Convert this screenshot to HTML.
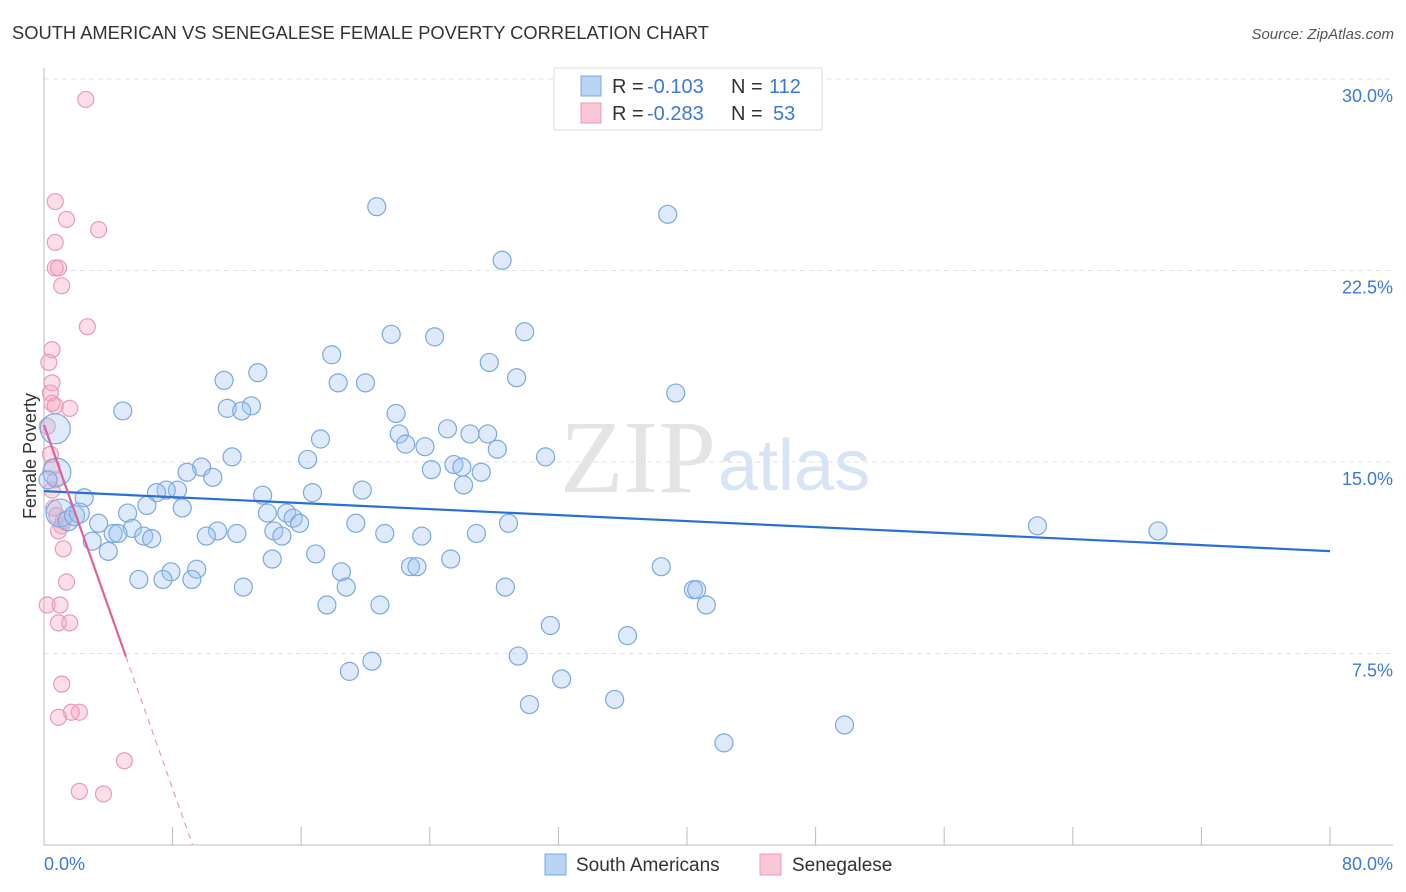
<!DOCTYPE html>
<html><head><meta charset="utf-8"><style>
body{margin:0;background:#fff;font-family:"Liberation Sans",sans-serif}
svg{display:block}
</style></head><body>
<svg id="chart" width="1406" height="892" xmlns="http://www.w3.org/2000/svg">
<text x="12" y="39" font-size="18" fill="#333" textLength="697" lengthAdjust="spacingAndGlyphs">SOUTH AMERICAN VS SENEGALESE FEMALE POVERTY CORRELATION CHART</text>
<text x="1394" y="39" font-size="15" fill="#555" text-anchor="end" font-style="italic">Source: ZipAtlas.com</text>
<g id="grid"></g>
<text x="716" y="492" font-size="104" fill="#e4e4e4" text-anchor="end" font-family="Liberation Serif,serif">ZIP</text>
<text x="718" y="490" font-size="72" fill="#d6e4f5">atlas</text>
<g id="axes"></g>
<g id="pts"></g>
<g id="lines"></g>
<text x="36" y="456" font-size="18" fill="#333" text-anchor="middle" transform="rotate(-90 36 456)">Female Poverty</text>
<g>
<rect x="554" y="68" width="268" height="62" fill="#fff" stroke="#ddd"/>
<rect x="581" y="76" width="20" height="20" fill="#b8d3f3" stroke="#7aa8e0"/>
<rect x="581" y="103" width="20" height="20" fill="#f8c6d5" stroke="#eb9ab4"/>
<text x="612" y="93" font-size="20" fill="#333">R =</text>
<text x="647" y="93" font-size="20" fill="#3c78d8">-0.103</text>
<text x="731" y="93" font-size="20" fill="#333">N =</text>
<text x="769" y="93" font-size="20" fill="#3c78d8">112</text>
<text x="612" y="120" font-size="20" fill="#333">R =</text>
<text x="647" y="120" font-size="20" fill="#3c78d8">-0.283</text>
<text x="731" y="120" font-size="20" fill="#333">N =</text>
<text x="773" y="120" font-size="20" fill="#3c78d8">53</text>
</g>
<g>
<rect x="545" y="854" width="21" height="21" fill="#b8d3f3" stroke="#7aa8e0"/>
<text x="576" y="871" font-size="19" fill="#333">South Americans</text>
<rect x="760" y="854" width="21" height="21" fill="#f8c6d5" stroke="#eb9ab4"/>
<text x="792" y="871" font-size="19" fill="#333">Senegalese</text>
</g>
</svg>
<script>
const yTicks=[7.5,15.0,22.5,30.0];
const xTickLabels=["0.0%","80.0%"];
const blueX=[20.7,38.8,28.5,21.6,24.3,29.9,17.9,27.7,13.3,29.4,11.2,18.3,20.0,39.3,4.9,11.4,12.9,12.3,21.9,25.1,22.1,26.5,27.6,17.2,22.5,23.7,28.2,11.7,16.4,31.2,25.5,9.8,26.0,24.1,8.9,27.2,10.5,26.1,8.3,7.6,7.0,13.6,19.8,16.7,2.5,6.4,8.6,5.2,13.9,15.1,15.5,15.9,19.4,28.9,3.4,5.5,10.8,14.3,21.2,26.9,12.0,23.5,4.3,4.6,6.2,14.8,10.1,6.7,3.0,4.0,16.9,14.2,25.3,22.8,23.2,38.4,9.5,18.5,7.9,5.9,7.4,9.2,12.4,18.8,28.7,40.4,40.6,41.2,17.6,20.9,31.5,36.3,29.5,20.4,19.0,32.2,35.5,30.2,49.8,42.3,61.8,69.3,0.7,0.8,1.0,1.5,1.9,2.2,0.25];
const blueY=[25.0,24.7,22.9,20.0,19.9,20.1,19.2,18.9,18.5,18.3,18.2,18.1,18.1,17.7,17.0,17.1,17.2,17.0,16.9,16.3,16.1,16.1,16.1,15.9,15.7,15.6,15.5,15.2,15.1,15.2,14.9,14.8,14.8,14.7,14.6,14.6,14.4,14.1,13.9,13.9,13.8,13.7,13.9,13.8,13.6,13.3,13.2,13.0,13.0,13.0,12.8,12.6,12.6,12.6,12.6,12.4,12.3,12.3,12.2,12.2,12.2,12.1,12.2,12.2,12.1,12.1,12.1,12.0,11.9,11.5,11.4,11.2,11.2,10.9,10.9,10.9,10.8,10.7,10.7,10.4,10.4,10.4,10.1,10.1,10.1,10.0,10.0,9.4,9.4,9.4,8.6,8.2,7.4,7.2,6.8,6.5,5.7,5.5,4.7,4.0,12.5,12.3,16.3,14.6,13.0,12.7,12.9,13.0,14.3];
const blueR=[9,9,9,9,9,9,9,9,9,9,9,9,9,9,9,9,9,9,9,9,9,9,9,9,9,9,9,9,9,9,9,9,9,9,9,9,9,9,9,9,9,9,9,9,9,9,9,9,9,9,9,9,9,9,9,9,9,9,9,9,9,9,9,9,9,9,9,9,9,9,9,9,9,9,9,9,9,9,9,9,9,9,9,9,9,9,9,9,9,9,9,9,9,9,9,9,9,9,9,9,9,9,15,14,14,10,10,10,9];
const pinkX=[2.6,0.7,1.4,3.4,0.7,0.7,0.9,1.1,2.7,0.5,0.3,0.5,0.4,0.5,0.7,1.6,0.2,0.4,0.5,0.7,0.5,0.6,0.8,1.2,1.1,0.9,1.2,1.4,0.2,1.0,0.9,1.6,1.1,2.2,1.7,0.9,5.0,2.2,3.7];
const pinkY=[29.2,25.2,24.5,24.1,23.6,22.6,22.6,21.9,20.3,19.4,18.9,18.1,17.7,17.3,17.2,17.1,16.4,15.3,14.8,14.3,13.9,13.2,12.9,12.7,12.5,12.3,11.6,10.3,9.4,9.4,8.7,8.7,6.3,5.2,5.2,5.0,3.3,2.1,2.0];
const blueLine=[13.86,11.51];
const pinkLine=[16.45,-1.78];
const X0=44,X1=1330,Y0=845,YS=191.5/7.5;
const sx=v=>X0+(X1-X0)*v/80, sy=v=>Y0-v*YS;
const NS="http://www.w3.org/2000/svg";
function mk(p,t,a){const e=document.createElementNS(NS,t);for(const k in a)e.setAttribute(k,a[k]);p.appendChild(e);return e;}
const grid=document.getElementById('grid'),axes=document.getElementById('axes'),pts=document.getElementById('pts'),lines=document.getElementById('lines');
yTicks.forEach(t=>{
 const l=mk(grid,'line',{x1:X0,x2:1393,y1:sy(t),y2:sy(t),stroke:'#e2e2e2','stroke-dasharray':'5,4'});
 
 
 const tx=mk(axes,'text',{x:1393,y:sy(t)+23,'font-size':18,fill:'#3c78d8','text-anchor':'end'});
 tx.textContent=t.toFixed(1)+'%';
 
 
});
mk(axes,'line',{x1:X0,x2:X0,y1:68,y2:Y0,stroke:'#bbb'});
mk(axes,'line',{x1:X0,x2:1393,y1:Y0,y2:Y0,stroke:'#bbb'});
for(let i=0;i<=10;i++){const x=sx(i*8);const t=mk(axes,'line',{x1:x,x2:x,y1:Y0-18,y2:Y0,stroke:'#bbb'});
 
 }
[[0,'start',44],[80,'end',1393]].forEach((d,i)=>{const t=mk(axes,'text',{x:d[2],y:870,'font-size':18,fill:'#3c78d8','text-anchor':d[1]});t.textContent=xTickLabels[i];
 
 });
pinkX.forEach((x,i)=>{const c=mk(pts,'circle',{cx:sx(x),cy:sy(pinkY[i]),r:8,fill:'rgba(244,160,188,0.35)',stroke:'#eb9ab4','stroke-width':1.2});
 
 });
blueX.forEach((x,i)=>{const c=mk(pts,'circle',{cx:sx(x),cy:sy(blueY[i]),r:blueR[i],fill:'rgba(160,195,240,0.35)',stroke:'#7aa8e0','stroke-width':1.2});
 
 });
const bl=mk(lines,'line',{x1:sx(0),y1:sy(blueLine[0]),x2:sx(80),y2:sy(blueLine[1]),stroke:'#2a6fd6','stroke-width':2.2});


const xe=5.1,xz=-pinkLine[0]/pinkLine[1];
const pl=mk(lines,'line',{x1:sx(0),y1:sy(pinkLine[0]),x2:sx(xe),y2:sy(pinkLine[0]+pinkLine[1]*xe),stroke:'#e0609a','stroke-width':2.2});


const pd=mk(lines,'line',{x1:sx(xe),y1:sy(pinkLine[0]+pinkLine[1]*xe),x2:sx(xz),y2:sy(0),stroke:'#eb9ab4','stroke-width':1.2,'stroke-dasharray':'6,5'});


</script>
</body></html>
